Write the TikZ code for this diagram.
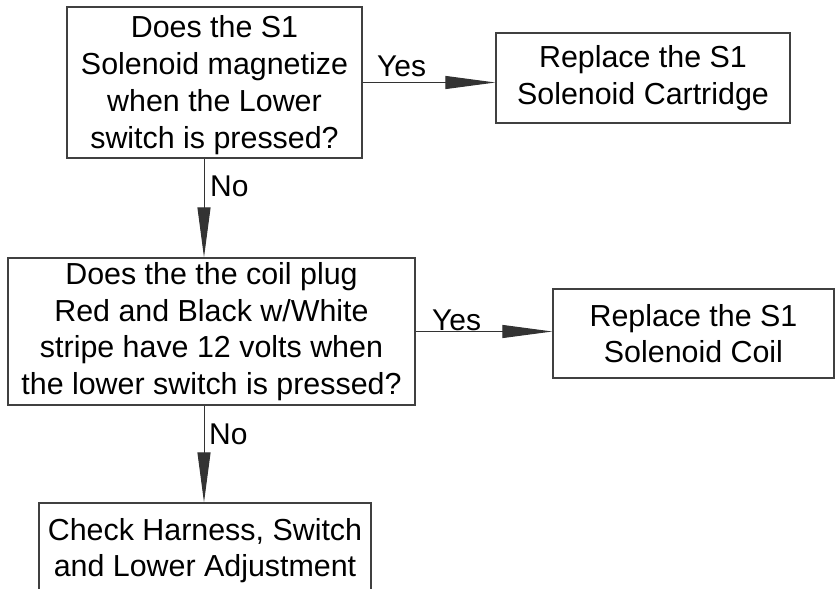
\documentclass[tikz,border=0pt]{standalone}
\usepackage{fontspec}
\setmainfont{Liberation Sans}
\usetikzlibrary{arrows.meta}
\begin{document}
\begin{tikzpicture}[x=1pt,y=-1pt,
  box/.style={draw=black!75, line width=1.3pt, inner sep=0pt, align=center,
    font=\fontsize{30.4}{36.7}\selectfont},
  lbl/.style={inner sep=0pt, anchor=base west, font=\fontsize{30}{36}\selectfont},
  conn/.style={draw=black!80, line width=1pt, -{Triangle[length=50pt,width=13pt]}}]
\useasboundingbox (0,0) rectangle (836,589);
\clip (0,0) rectangle (836,589);
\fill[white] (0,0) rectangle (836,589);

\node[box, minimum width=295pt, minimum height=151pt, text depth=1pt] (b1) at (214.5,82.5)
  {Does the S1\\Solenoid magnetize\\when the Lower\\switch is pressed?};
\node[box, minimum width=294pt, minimum height=90pt] (b2) at (643,78)
  {Replace the S1\\Solenoid Cartridge};
\node[box, minimum width=407pt, minimum height=147pt] (b3) at (211.5,331.5)
  {Does the the coil plug\\Red and Black w/White\\stripe have 12 volts when\\the lower switch is pressed?};
\node[box, minimum width=281pt, minimum height=89pt] (b5) at (693.5,333.5)
  {Replace the S1\\Solenoid Coil};
\node[box, minimum width=332pt, minimum height=95pt] (b4) at (205,550.5)
  {Check Harness, Switch\\and Lower Adjustment};

\coordinate (ax) at (204,0);

\draw[conn] (b1.east) -- (b1.east -| b2.west);
\draw[conn] (b1.south -| ax) -- (b3.north -| ax);
\draw[conn] (b3.east) -- (b3.east -| b5.west);
\draw[conn] (b3.south -| ax) -- (b4.north -| ax);

\node[lbl] (y1) at (377,76.7) {Yes};
\node[lbl] (n1) at (210,196.7) {No};
\node[lbl] (y2) at (432,330.7) {Yes};
\node[lbl] (n2) at (209,444.3) {No};
\end{tikzpicture}
\end{document}
